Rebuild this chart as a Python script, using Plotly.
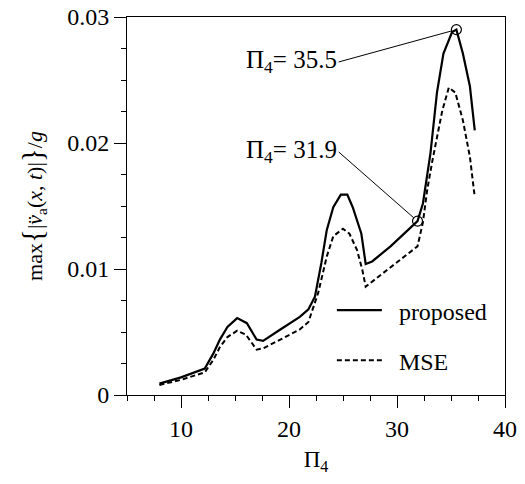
import plotly.graph_objects as go

# ---- data ----
pi4_proposed = [8.0, 10.0, 12.2, 13.0, 13.6, 14.3, 15.2, 16.1, 17.0, 17.6, 19.2, 21.0, 21.8,
                22.4, 23.0, 23.5, 24.1, 24.8, 25.4, 25.9, 26.7, 27.1, 27.7, 29.4, 31.9,
                32.4, 33.1, 33.7, 34.3, 35.1, 35.5, 36.1, 36.75, 37.2]
acc_proposed = [0.0009, 0.0014, 0.0021, 0.0033, 0.0044, 0.0054, 0.0061, 0.0057, 0.0044, 0.0043,
                0.0052, 0.0062, 0.0068, 0.0078, 0.0105, 0.0131, 0.0149, 0.0159, 0.0159, 0.0149,
                0.0128, 0.0104, 0.0106, 0.0118, 0.0138, 0.0152, 0.0192, 0.0240, 0.0271,
                0.0288, 0.0290, 0.0271, 0.0245, 0.0210]

pi4_mse = [8.0, 10.0, 12.2, 13.0, 13.6, 14.3, 15.2, 16.0, 17.0, 17.6, 19.2, 21.0, 21.8, 22.7,
           23.5, 24.1, 25.0, 25.6, 26.3, 26.8, 27.1, 29.4, 31.9, 32.4, 32.8, 33.3, 34.2,
           34.8, 35.4, 36.1, 36.75, 37.2]
acc_mse = [0.0008, 0.0012, 0.0018, 0.0028, 0.0038, 0.0046, 0.0051, 0.0048, 0.0036, 0.0037,
           0.0044, 0.0052, 0.0058, 0.0081, 0.0110, 0.0126, 0.0132, 0.0128, 0.0115, 0.0099,
           0.0086, 0.0101, 0.0118, 0.0137, 0.0163, 0.0187, 0.0226, 0.0244, 0.0240, 0.0218,
           0.0189, 0.0157]

marked_pi4 = [35.5, 31.9]
marked_acc = [0.0290, 0.0138]
label_pi4 = [24.6, 24.6]
label_acc = [0.02643, 0.01929]
marked_labels = ["Π<sub>4</sub>= 35.5", "Π<sub>4</sub>= 31.9"]

x_ticks = [10, 20, 30, 40]
y_ticks = [0, 0.01, 0.02, 0.03]

FONT = "Liberation Serif"
NB = "\u00a0\u00a0"

fig = go.Figure()
fig.add_trace(go.Scatter(x=pi4_proposed, y=acc_proposed, mode="lines", name=NB + "proposed",
                         line=dict(color="black", width=2.2), legendgroup="a"))
fig.add_trace(go.Scatter(x=pi4_mse, y=acc_mse, mode="lines", name=NB + "MSE",
                         line=dict(color="black", width=2, dash="5px,3px"), legendgroup="b"))
fig.add_trace(go.Scatter(x=marked_pi4, y=marked_acc, mode="markers", showlegend=False,
                         marker=dict(symbol="circle-open", size=10, color="black",
                                     line=dict(width=1.2, color="black"))))

for px, py, tx, ty, txt in zip(marked_pi4, marked_acc, label_pi4, label_acc, marked_labels):
    fig.add_annotation(x=px, y=py, ax=tx, ay=ty, axref="x", ayref="y", xref="x", yref="y",
                       text=txt, showarrow=True, arrowhead=0, arrowwidth=1, arrowcolor="black",
                       standoff=5, xanchor="right", yanchor="middle",
                       font=dict(family=FONT, size=25, color="black"))

axis_common = dict(showline=True, linecolor="black", linewidth=1, mirror=True,
                   ticks="outside", ticklen=12, tickwidth=1, tickcolor="black",
                   showgrid=False, zeroline=False, automargin=False,
                   tickfont=dict(family=FONT, size=24, color="black"))

fig.update_xaxes(range=[5, 40], tickvals=x_ticks,
                 minor=dict(dtick=2.5, tick0=0, ticks="outside", ticklen=5, tickcolor="black"),
                 title=dict(text="Π<sub>4</sub>", font=dict(family=FONT, size=23, color="black"),
                            standoff=10),
                 **axis_common)
fig.update_yaxes(range=[0, 0.03], tickvals=y_ticks,
                 minor=dict(dtick=0.0025, tick0=0, ticks="outside", ticklen=5, tickcolor="black"),
                 title=dict(text="max<span style='font-size:29px'>{</span>|<i>v̈</i><sub>a</sub>(<i>x</i>, <i>t</i>)|<span style='font-size:29px'>}</span>/<i>g</i>",
                            font=dict(family=FONT, size=22, color="black"), standoff=18),
                 **axis_common)

fig.update_layout(
    width=525, height=484,
    margin=dict(l=127, r=20, t=17, b=89, autoexpand=False),
    paper_bgcolor="white", plot_bgcolor="white",
    showlegend=True,
    legend=dict(x=0.542, y=0.283, xanchor="left", yanchor="top", bgcolor="rgba(0,0,0,0)",
                font=dict(family=FONT, size=24, color="black"), tracegroupgap=16,
                traceorder="grouped", itemwidth=45),
)

fig.write_html("out.html", config={"displayModeBar": False},
               post_script="document.body.style.margin='0';")
